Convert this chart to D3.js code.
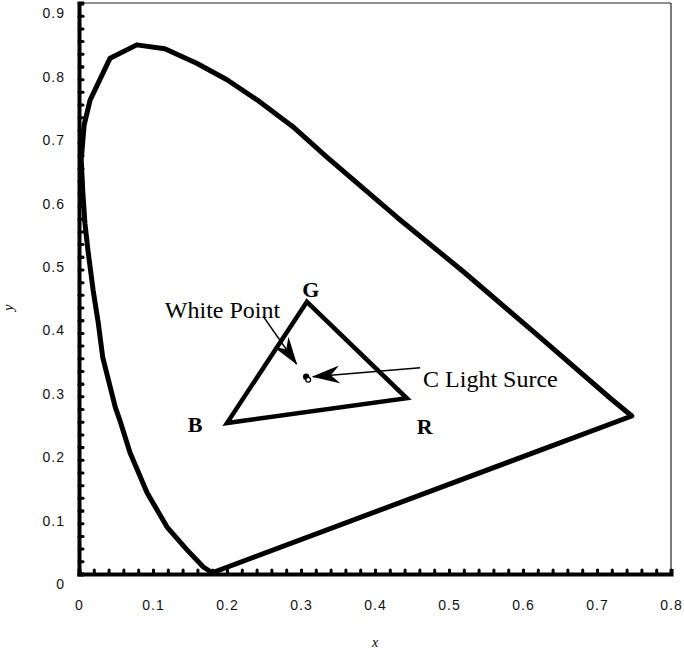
<!DOCTYPE html>
<html>
<head>
<meta charset="utf-8">
<script src="https://cdn.jsdelivr.net/npm/d3@7"></script>
<style>
  html, body { margin: 0; padding: 0; background: #fff; }
  svg { display: block; }
</style>
</head>
<body>
<div id="chart"></div>
<script>
// spectral locus (x, y chromaticity), then closed by the purple line
const locus = [
  [0.180, 0.002], [0.168, 0.011], [0.146, 0.038], [0.119, 0.074], [0.092, 0.128],
  [0.069, 0.191], [0.055, 0.243], [0.049, 0.263], [0.032, 0.342], [0.026, 0.396],
  [0.019, 0.448], [0.012, 0.511], [0.008, 0.553], [0.005, 0.605], [0.003, 0.653],
  [0.007, 0.708], [0.015, 0.747], [0.042, 0.813], [0.078, 0.834], [0.116, 0.828],
  [0.159, 0.805], [0.200, 0.779], [0.241, 0.747], [0.289, 0.705], [0.335, 0.657],
  [0.430, 0.562], [0.520, 0.476], [0.618, 0.378], [0.718, 0.277], [0.747, 0.249]
]

const primaryNames = ['G', 'R', 'B']
const primaryX = [0.308, 0.443, 0.200]
const primaryY = [0.429, 0.277, 0.238]

const whitePoint = [0.307, 0.311]

const xTicks = [0, 0.1, 0.2, 0.3, 0.4, 0.5, 0.6, 0.7, 0.8]
const yTicks = [0, 0.1, 0.2, 0.3, 0.4, 0.5, 0.6, 0.7, 0.8, 0.9]
const xTickLabels = ['0', '0.1', '0.2', '0.3', '0.4', '0.5', '0.6', '0.7', '0.8']
const yTickLabels = ['0', '0.1', '0.2', '0.3', '0.4', '0.5', '0.6', '0.7', '0.8', '0.9']

const width = 684
const height = 652

const svg = d3.select('#chart').append('svg')
  .attr('width', width)
  .attr('height', height)

const x = d3.scaleLinear().domain([0, 0.8]).range([79, 671])
const y = d3.scaleLinear().domain([0, 0.9]).range([574, 3])

// thin frame top / right
svg.append('line')
  .attr('x1', x(0)).attr('x2', x(0.8))
  .attr('y1', y(0.9)).attr('y2', y(0.9))
  .attr('stroke', '#222').attr('stroke-width', 1.2)
svg.append('line')
  .attr('x1', x(0.8)).attr('x2', x(0.8))
  .attr('y1', y(0.9)).attr('y2', y(0))
  .attr('stroke', '#222').attr('stroke-width', 1.2)

// minor ticks (inward dots), every 0.02
const minorX = d3.range(0, 0.8001, 0.02)
const minorY = d3.range(0, 0.9001, 0.02)

svg.append('g')
  .attr('transform', `translate(0,${y(0)})`)
  .call(d3.axisBottom(x).tickValues(minorX).tickSize(-4).tickFormat(''))
  .call(g => g.select('.domain').remove())
  .call(g => g.selectAll('line').attr('stroke', '#000').attr('stroke-width', 3).attr('stroke-linecap', 'round'))

svg.append('g')
  .attr('transform', `translate(${x(0)},0)`)
  .call(d3.axisLeft(y).tickValues(minorY).tickSize(-4).tickFormat(''))
  .call(g => g.select('.domain').remove())
  .call(g => g.selectAll('line').attr('stroke', '#000').attr('stroke-width', 3).attr('stroke-linecap', 'round'))

// main axes
const xAxis = svg.append('g')
  .attr('transform', `translate(0,${y(0)})`)
  .call(d3.axisBottom(x).tickValues(xTicks).tickSize(-5).tickPadding(26)
    .tickFormat((d, i) => xTickLabels[i]))
xAxis.select('.domain').attr('stroke', '#000').attr('stroke-width', 4)
xAxis.selectAll('.tick line').attr('stroke', '#000').attr('stroke-width', 3)
xAxis.selectAll('text')
  .attr('font-family', 'Liberation Sans, Arial, sans-serif')
  .attr('font-size', 14)
  .attr('letter-spacing', 1)
  .attr('fill', '#111')

const yAxis = svg.append('g')
  .attr('transform', `translate(${x(0)},0)`)
  .call(d3.axisLeft(y).tickValues(yTicks).tickSize(-5).tickPadding(14)
    .tickFormat((d, i) => yTickLabels[i]))
yAxis.select('.domain').attr('stroke', '#000').attr('stroke-width', 4)
yAxis.selectAll('.tick line').attr('stroke', '#000').attr('stroke-width', 3)
yAxis.selectAll('text')
  .attr('dy', '1.05em')
  .attr('font-family', 'Liberation Sans, Arial, sans-serif')
  .attr('font-size', 14)
  .attr('letter-spacing', 1)
  .attr('fill', '#111')

// axis titles
svg.append('text')
  .attr('transform', `translate(13,${y(0.42)}) rotate(-90)`)
  .attr('text-anchor', 'middle')
  .attr('font-family', 'Liberation Serif, Times New Roman, serif')
  .attr('font-style', 'italic')
  .attr('font-size', 14)
  .text('y')

svg.append('text')
  .attr('x', x(0.4))
  .attr('y', 647)
  .attr('text-anchor', 'middle')
  .attr('font-family', 'Liberation Serif, Times New Roman, serif')
  .attr('font-style', 'italic')
  .attr('font-size', 14)
  .text('x')

// spectral locus
const line = d3.line().x(d => x(d[0])).y(d => y(d[1]))
svg.append('path')
  .datum(locus)
  .attr('d', d => line(d) + 'Z')
  .attr('fill', 'none')
  .attr('stroke', '#000')
  .attr('stroke-width', 5)
  .attr('stroke-linejoin', 'round')

// primaries triangle
const tri = primaryX.map((d, i) => [d, primaryY[i]])
svg.append('path')
  .datum(tri)
  .attr('d', d => line(d) + 'Z')
  .attr('fill', 'none')
  .attr('stroke', '#000')
  .attr('stroke-width', 4.5)
  .attr('stroke-linejoin', 'miter')

const labelOffsets = { G: [4, -5], R: [18, 36], B: [-32, 9] }
svg.selectAll('.prim-label')
  .data(primaryNames)
  .enter().append('text')
  .attr('class', 'prim-label')
  .attr('x', (d, i) => x(primaryX[i]) + labelOffsets[d][0])
  .attr('y', (d, i) => y(primaryY[i]) + labelOffsets[d][1])
  .attr('text-anchor', 'middle')
  .attr('font-family', 'Liberation Serif, Times New Roman, serif')
  .attr('font-weight', 'bold')
  .attr('font-size', 22)
  .text(d => d)

// arrow marker
svg.append('defs').append('marker')
  .attr('id', 'arrow')
  .attr('viewBox', '0 0 28 18')
  .attr('refX', 27)
  .attr('refY', 9)
  .attr('markerWidth', 28)
  .attr('markerHeight', 18)
  .attr('markerUnits', 'userSpaceOnUse')
  .attr('orient', 'auto')
  .append('path')
  .attr('d', 'M0,0 L28,9 L0,18 L9,9 Z')
  .attr('fill', '#000')

// white point dot
svg.append('circle')
  .attr('cx', x(whitePoint[0]))
  .attr('cy', y(whitePoint[1]))
  .attr('r', 3.2)
  .attr('fill', '#000')
svg.append('circle')
  .attr('cx', x(whitePoint[0]) + 2)
  .attr('cy', y(whitePoint[1]) + 3)
  .attr('r', 2.4)
  .attr('fill', '#fff')
  .attr('stroke', '#000')
  .attr('stroke-width', 1.3)

// annotations
svg.append('line')
  .attr('x1', x(0.249)).attr('y1', y(0.406))
  .attr('x2', x(0.294)).attr('y2', y(0.331))
  .attr('stroke', '#000').attr('stroke-width', 1.5)
  .attr('marker-end', 'url(#arrow)')

svg.append('line')
  .attr('x1', x(0.461)).attr('y1', y(0.325))
  .attr('x2', x(0.316)).attr('y2', y(0.311))
  .attr('stroke', '#000').attr('stroke-width', 1.5)
  .attr('marker-end', 'url(#arrow)')

svg.append('text')
  .attr('x', x(0.116))
  .attr('y', y(0.404))
  .attr('font-family', 'Liberation Serif, Times New Roman, serif')
  .attr('font-size', 24)
  .text('White Point')

svg.append('text')
  .attr('x', x(0.465))
  .attr('y', y(0.294))
  .attr('font-family', 'Liberation Serif, Times New Roman, serif')
  .attr('font-size', 24)
  .text('C Light Surce')
</script>
</body>
</html>
